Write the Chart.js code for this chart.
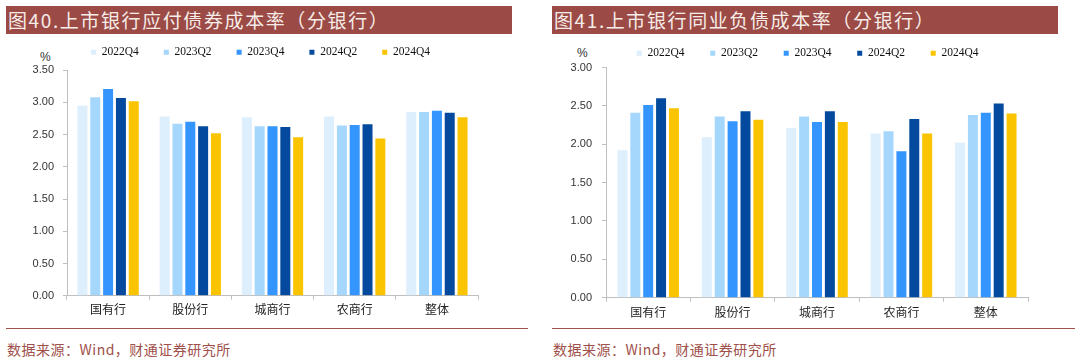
<!DOCTYPE html>
<html><head><meta charset="utf-8">
<script src="https://cdn.jsdelivr.net/npm/chart.js@4.4.1/dist/chart.umd.min.js"></script>
<style>
html,body{margin:0;padding:0;background:#fff}
body{width:1080px;height:363px;position:relative;overflow:hidden;font-family:"Noto Sans CJK SC",sans-serif}
.ttl{position:absolute;top:6px;height:28px;background:#9B4A45;color:#F6ECE8;font-size:19px;line-height:28px;letter-spacing:1.6px;padding-left:2px;white-space:nowrap;box-sizing:border-box}
.rule{position:absolute;top:328px;height:1px;background:#A0524D}
.src{position:absolute;top:339px;font-size:14px;line-height:20px;color:#A0504A;letter-spacing:0.5px;white-space:nowrap}
.pct{position:absolute;font:12px "Liberation Sans",sans-serif;color:#333;line-height:12px}
.cv{position:absolute;top:0}
</style></head>
<body>
<div class="ttl" style="left:6px;width:506px">图40.上市银行应付债券成本率（分银行）</div>
<div class="ttl" style="left:552px;width:506px">图41.上市银行同业负债成本率（分银行）</div>
<div class="pct" style="left:40px;top:51px">%</div>
<div class="pct" style="left:577px;top:47px">%</div>
<canvas id="c1" class="cv" style="left:0" width="540" height="330"></canvas>
<canvas id="c2" class="cv" style="left:540px" width="540" height="330"></canvas>
<div class="rule" style="left:6px;width:522px"></div>
<div class="rule" style="left:552px;width:523px"></div>
<div class="src" style="left:7px">数据来源：Wind，财通证券研究所</div>
<div class="src" style="left:553px">数据来源：Wind，财通证券研究所</div>
<script>
// categories and series
const categories = ['国有行','股份行','城商行','农商行','整体'];
const seriesNames = ['2022Q4','2023Q2','2023Q4','2024Q2','2024Q4'];
const seriesColors = ['#DDEEFD','#A5D7FC','#3395FD','#034A9E','#FAC400'];

// 图40 应付债券成本率 (%)
const bond2022Q4 = [2.95, 2.78, 2.77, 2.78, 2.85];
const bond2023Q2 = [3.08, 2.67, 2.63, 2.64, 2.85];
const bond2023Q4 = [3.21, 2.70, 2.63, 2.65, 2.87];
const bond2024Q2 = [3.07, 2.63, 2.62, 2.66, 2.84];
const bond2024Q4 = [3.02, 2.52, 2.46, 2.44, 2.77];

// 图41 同业负债成本率 (%)
const ib2022Q4 = [1.92, 2.09, 2.21, 2.14, 2.02];
const ib2023Q2 = [2.41, 2.36, 2.36, 2.17, 2.38];
const ib2023Q4 = [2.51, 2.30, 2.29, 1.91, 2.41];
const ib2024Q2 = [2.60, 2.43, 2.43, 2.33, 2.53];
const ib2024Q4 = [2.47, 2.32, 2.29, 2.14, 2.40];

// y-axis ranges
const bondAxis = {min: 0, max: 3.5, step: 0.5};
const ibAxis = {min: 0, max: 3.0, step: 0.5};

const legendShift = {
  id: 'legendShift',
  afterLayout(chart, args, opts) {
    const l = chart.legend;
    if (!l) return;
    l.left += opts.dx; l.right += opts.dx;
    l.top += opts.dy; l.bottom += opts.dy;
  }
};

function makeChart(id, seriesData, axis, cfg) {
  const datasets = seriesData.map((d, i) => ({
    label: seriesNames[i],
    data: d,
    backgroundColor: seriesColors[i],
    borderWidth: 0,
    barPercentage: cfg.barPct,
    categoryPercentage: cfg.catPct
  }));
  return new Chart(document.getElementById(id), {
    type: 'bar',
    data: {labels: categories, datasets},
    plugins: [legendShift],
    options: {
      responsive: false,
      animation: false,
      events: [],
      layout: {padding: {left: 0, right: cfg.padRight, top: cfg.padTop, bottom: cfg.padBottom}},
      plugins: {
        tooltip: {enabled: false},
        legendShift: {dx: cfg.legDx, dy: cfg.legDy},
        legend: {
          position: 'top',
          align: 'start',
          labels: {
            boxWidth: 5, boxHeight: 5, padding: cfg.legPad,
            color: '#111',
            font: {family: '"Liberation Serif", serif', size: 11.5}
          }
        }
      },
      scales: {
        x: {
          afterFit(s) { s.height = 20; },
          border: {color: '#BFBFBF', width: 1},
          grid: {display: true, drawOnChartArea: false, drawTicks: true, tickLength: 4, color: '#BFBFBF'},
          ticks: {padding: cfg.xPad, color: '#222', font: {family: '"Noto Sans CJK SC", sans-serif', size: 12}, maxRotation: 0}
        },
        y: {
          min: axis.min, max: axis.max,
          afterFit(s) { s.width = cfg.yWidth; },
          border: {color: '#BFBFBF', width: 1},
          grid: {display: true, drawOnChartArea: false, drawTicks: true, tickLength: 4, color: '#BFBFBF'},
          ticks: {
            stepSize: axis.step, padding: cfg.yPad, color: '#333',
            font: {family: '"Liberation Sans", sans-serif', size: 11},
            callback: v => Number(v).toFixed(2)
          }
        }
      }
    }
  });
}

makeChart('c1', [bond2022Q4, bond2023Q2, bond2023Q4, bond2024Q2, bond2024Q4], bondAxis,
  {barPct: 0.78, catPct: 0.78, padRight: 62, padTop: 23.7, padBottom: 14.3, legDx: 66, legDy: -2.2, legPad: 25, xPad: 2.5, yWidth: 67, yPad: 9});
makeChart('c2', [ib2022Q4, ib2023Q2, ib2023Q4, ib2024Q2, ib2024Q4], ibAxis,
  {barPct: 0.775, catPct: 0.763, padRight: 52, padTop: 20.3, padBottom: 12.3, legDx: 71, legDy: 1.5, legPad: 25.7, xPad: 4, yWidth: 66, yPad: 10});
</script>
</body></html>
